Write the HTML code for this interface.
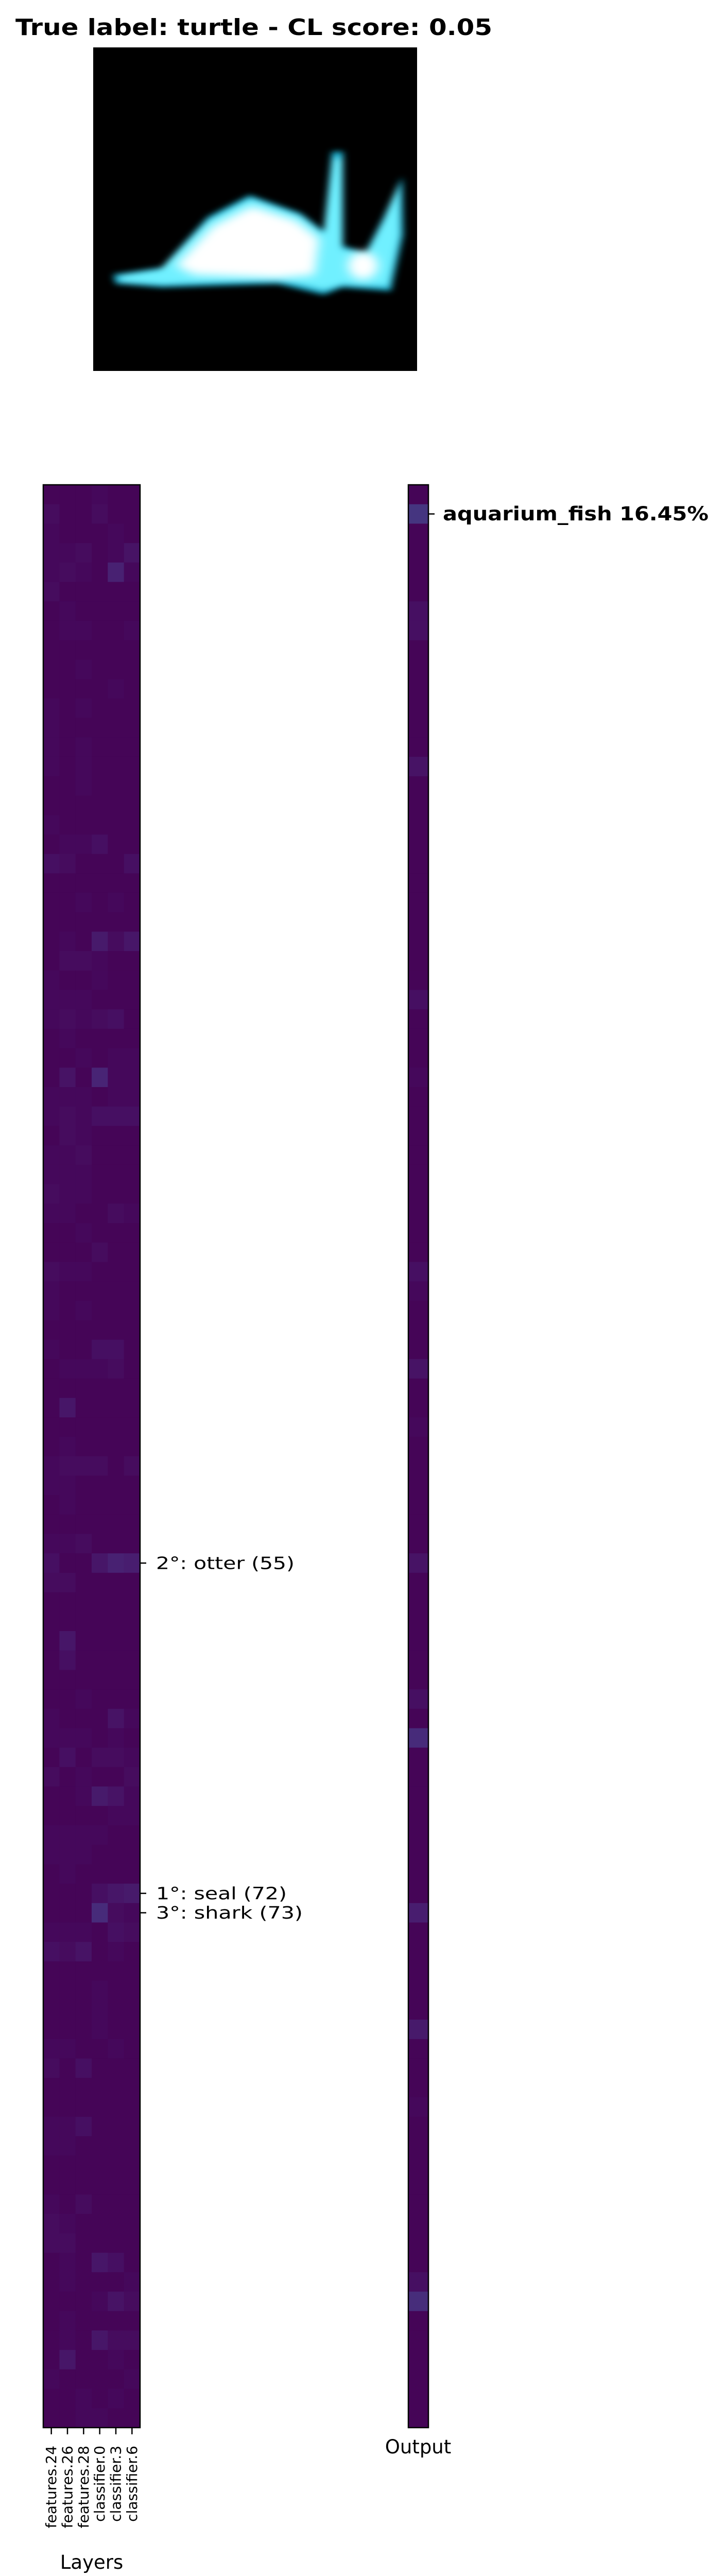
<!DOCTYPE html>
<html><head><meta charset="utf-8">
<style>
html,body{margin:0;padding:0;background:#fff;width:1408px;height:5021px;overflow:hidden;}
svg{display:block;font-family:"DejaVu Sans","Liberation Sans",sans-serif;}
</style></head>
<body>
<svg id="fig" width="1408" height="5021" viewBox="0 0 1408 5021" xmlns="http://www.w3.org/2000/svg" style="position:absolute;left:0;top:0;overflow:hidden">
  <defs>
    <filter id="blur" x="-20%" y="-20%" width="140%" height="140%"><feGaussianBlur stdDeviation="8"/></filter>
    <filter id="blur2" x="-20%" y="-20%" width="140%" height="140%"><feGaussianBlur stdDeviation="12"/></filter>
    <clipPath id="imgclip"><rect x="181" y="92" width="629" height="628"/></clipPath>
  </defs>
  <text x="30" y="68" font-size="44" font-weight="bold" textLength="926" lengthAdjust="spacingAndGlyphs">True label: turtle - CL score: 0.05</text>
  <g clip-path="url(#imgclip)">
    <rect x="181" y="92" width="629" height="628" fill="#000"/>
    <g transform="scale(0.898,0.7015)">
      <g filter="url(#blur)">
        <polygon fill="#1fb8d8" points="245,760 350,740 450,600 540,540 650,590 700,640 718,420 742,420 742,680 790,700 830,600 870,490 872,650 845,805 740,795 700,815 600,785 350,795 250,785"/>
        <polygon fill="#6ff0ff" points="260,765 345,748 452,612 542,552 648,600 700,650 722,440 738,440 738,690 792,705 832,610 862,510 862,650 838,790 742,785 700,800 600,770 355,785 262,778"/>
      </g>
      <g filter="url(#blur2)">
        <polygon fill="#ffffff" points="380,735 460,625 545,570 640,610 690,660 680,760 600,770 420,760"/>
        <ellipse cx="785" cy="735" rx="32" ry="38" fill="#ffffff"/>
      </g>
    </g>
  </g>
  <g id="heatmap"></g>
  <g id="output"></g>
  <g id="labels"></g>
</svg>
<script>
// ---- data ----
const layerNames = ["features.24","features.26","features.28","classifier.0","classifier.3","classifier.6"];
const heatRows = [
[0.01,0.01,0.01,0.02,0.01,0.01],[0.03,0.01,0.01,0.03,0.01,0.01],[0.02,0.01,0.01,0.01,0.02,0.01],[0.02,0.02,0.03,0.01,0.02,0.05],[0.02,0.03,0.02,0.01,0.09,0.02],
[0.03,0.01,0.01,0.01,0.01,0.01],[0.01,0.02,0.01,0.01,0.01,0.01],[0.01,0.02,0.02,0.01,0.01,0.02],[0.01,0.01,0.01,0.01,0.01,0.01],[0.01,0.01,0.02,0.01,0.01,0.01],
[0.01,0.01,0.01,0.01,0.02,0.01],[0.02,0.01,0.02,0.01,0.01,0.01],[0.02,0.01,0.01,0.01,0.01,0.01],[0.02,0.01,0.02,0.01,0.01,0.01],[0.02,0.01,0.02,0.01,0.01,0.01],
[0.01,0.01,0.02,0.01,0.01,0.01],[0.01,0.01,0.01,0.01,0.01,0.01],[0.02,0.01,0.01,0.01,0.01,0.01],[0.01,0.02,0.02,0.04,0.01,0.01],[0.04,0.03,0.01,0.01,0.01,0.04],
[0.01,0.01,0.01,0.01,0.01,0.01],[0.01,0.01,0.02,0.01,0.02,0.01],[0.01,0.01,0.01,0.01,0.01,0.01],[0.01,0.02,0.01,0.07,0.03,0.06],[0.01,0.03,0.03,0.02,0.01,0.01],
[0.02,0.01,0.01,0.02,0.01,0.01],[0.02,0.02,0.02,0.01,0.01,0.01],[0.02,0.03,0.02,0.03,0.04,0.01],[0.01,0.02,0.01,0.01,0.01,0.01],[0.01,0.01,0.02,0.01,0.02,0.02],
[0.01,0.05,0.01,0.10,0.02,0.02],[0.02,0.02,0.02,0.01,0.02,0.02],[0.02,0.03,0.02,0.04,0.04,0.04],[0.01,0.03,0.02,0.01,0.01,0.01],[0.02,0.02,0.03,0.01,0.01,0.01],
[0.02,0.02,0.02,0.01,0.01,0.01],[0.03,0.02,0.02,0.01,0.01,0.01],[0.02,0.02,0.01,0.01,0.03,0.02],[0.01,0.01,0.02,0.01,0.01,0.01],[0.01,0.01,0.01,0.03,0.01,0.01],
[0.03,0.02,0.02,0.01,0.01,0.01],[0.02,0.01,0.01,0.01,0.01,0.01],[0.02,0.01,0.02,0.01,0.01,0.01],[0.01,0.01,0.01,0.01,0.01,0.01],[0.02,0.01,0.01,0.04,0.04,0.01],
[0.01,0.02,0.02,0.02,0.03,0.01],[0.01,0.01,0.01,0.01,0.01,0.01],[0.01,0.06,0.01,0.01,0.01,0.01],[0.01,0.01,0.01,0.01,0.01,0.01],[0.01,0.02,0.01,0.01,0.01,0.01],
[0.02,0.03,0.03,0.03,0.01,0.03],[0.02,0.02,0.01,0.01,0.01,0.01],[0.01,0.02,0.01,0.01,0.01,0.01],[0.01,0.01,0.01,0.01,0.01,0.01],[0.02,0.02,0.03,0.01,0.01,0.01],
[0.04,0.01,0.01,0.06,0.09,0.08],[0.03,0.03,0.01,0.01,0.01,0.01],[0.01,0.01,0.01,0.01,0.01,0.01],[0.01,0.01,0.01,0.01,0.01,0.01],[0.01,0.06,0.01,0.01,0.01,0.01],
[0.01,0.04,0.01,0.01,0.01,0.01],[0.01,0.01,0.01,0.01,0.01,0.01],[0.01,0.01,0.02,0.01,0.01,0.01],[0.02,0.01,0.01,0.01,0.05,0.02],[0.02,0.02,0.02,0.01,0.02,0.01],
[0.01,0.04,0.01,0.03,0.03,0.02],[0.03,0.01,0.02,0.01,0.01,0.03],[0.01,0.01,0.02,0.07,0.05,0.02],[0.01,0.01,0.01,0.01,0.02,0.02],[0.02,0.02,0.02,0.02,0.01,0.01],
[0.02,0.02,0.02,0.01,0.01,0.01],[0.01,0.02,0.01,0.01,0.01,0.01],[0.01,0.01,0.01,0.04,0.06,0.07],[0.01,0.01,0.01,0.13,0.03,0.02],[0.02,0.02,0.02,0.01,0.04,0.03],
[0.04,0.03,0.05,0.01,0.02,0.01],[0.01,0.01,0.01,0.01,0.01,0.01],[0.01,0.01,0.01,0.02,0.01,0.01],[0.01,0.01,0.01,0.02,0.01,0.01],[0.01,0.01,0.01,0.02,0.01,0.01],
[0.02,0.02,0.01,0.01,0.02,0.01],[0.03,0.01,0.04,0.01,0.01,0.01],[0.01,0.01,0.01,0.01,0.01,0.01],[0.01,0.01,0.01,0.01,0.01,0.01],[0.02,0.02,0.04,0.01,0.01,0.01],
[0.02,0.02,0.01,0.01,0.01,0.01],[0.01,0.01,0.01,0.01,0.01,0.01],[0.01,0.01,0.01,0.01,0.01,0.01],[0.02,0.01,0.03,0.01,0.01,0.01],[0.03,0.02,0.01,0.01,0.01,0.01],
[0.03,0.03,0.01,0.01,0.01,0.01],[0.01,0.02,0.01,0.06,0.04,0.01],[0.01,0.02,0.01,0.01,0.01,0.02],[0.01,0.01,0.01,0.02,0.05,0.03],[0.01,0.02,0.01,0.01,0.01,0.01],
[0.01,0.02,0.01,0.06,0.03,0.03],[0.01,0.06,0.01,0.01,0.02,0.01],[0.02,0.01,0.01,0.01,0.01,0.02],[0.01,0.01,0.02,0.01,0.02,0.01],[0.01,0.01,0.02,0.02,0.01,0.01]
];
const outputValues = [0.01,0.1645,0.01,0.01,0.01,0.01,0.04,0.04,0.01,0.01,
0.01,0.01,0.01,0.01,0.05,0.01,0.01,0.01,0.01,0.01,
0.01,0.01,0.01,0.01,0.01,0.01,0.04,0.01,0.01,0.01,
0.02,0.01,0.01,0.01,0.01,0.01,0.01,0.01,0.01,0.01,
0.04,0.02,0.01,0.01,0.01,0.05,0.01,0.01,0.02,0.01,
0.01,0.01,0.01,0.01,0.01,0.05,0.01,0.01,0.01,0.01,
0.01,0.01,0.04,0.01,0.13,0.01,0.01,0.01,0.01,0.01,
0.01,0.01,0.01,0.08,0.01,0.01,0.01,0.01,0.01,0.07,
0.01,0.01,0.01,0.02,0.01,0.01,0.01,0.01,0.01,0.01,
0.01,0.01,0.04,0.14,0.01,0.01,0.01,0.01,0.01,0.01];
const rowTickIdx = [55,72,73];
const rowTickText = ["2°: otter (55)","1°: seal (72)","3°: shark (73)"];
const rowTickLen = [269,254,285];
const topIdx = 1;
const topText = "aquarium_fish 16.45%";

// ---- layout ----
const NS="http://www.w3.org/2000/svg";
const hmX0=84, hmX1=272, hmY0=941, hmY1=4712;
const outX0=793, outX1=832;
const nRows=heatRows.length, nCols=layerNames.length;
const rowH=(hmY1-hmY0)/nRows, colW=(hmX1-hmX0)/nCols;
const yOf=i=>hmY0+i*rowH;
const xOf=j=>hmX0+j*colW;
const stops=[[0,[68,1,84]],[0.05,[71,19,101]],[0.1,[72,36,117]],[0.15,[71,47,125]],[0.2,[65,68,135]],[0.3,[53,95,141]],[0.4,[42,120,142]],[0.5,[33,145,140]],[0.6,[34,168,132]],[0.7,[68,191,112]],[0.8,[122,209,81]],[0.9,[189,223,38]],[1,[253,231,37]]];
function viridis(v){v=Math.max(0,Math.min(1,v));for(let k=1;k<stops.length;k++){if(v<=stops[k][0]){const a=stops[k-1],b=stops[k];const t=(v-a[0])/(b[0]-a[0]);const c=a[1].map((x,i)=>Math.round(x+(b[1][i]-x)*t));return `rgb(${c})`;}}return 'rgb(253,231,37)';}
function mk(tag,attrs,parent){const e=document.createElementNS(NS,tag);for(const k in attrs)e.setAttribute(k,attrs[k]);parent.appendChild(e);return e;}

const hm=document.getElementById('heatmap');
heatRows.forEach((row,i)=>row.forEach((v,j)=>{
  const r=mk('rect',{x:xOf(j),y:yOf(i),width:colW+0.5,height:rowH+0.5,fill:viridis(v)},hm);
  
  
}));
const hb=mk('rect',{x:hmX0,y:hmY0,width:hmX1-hmX0,height:hmY1-hmY0,fill:'none',stroke:'#000','stroke-width':2.5},hm);



const out=document.getElementById('output');
outputValues.forEach((v,i)=>{
  const r=mk('rect',{x:outX0,y:yOf(i),width:outX1-outX0,height:rowH+0.5,fill:viridis(v)},out);
  
  
});
const ob=mk('rect',{x:outX0,y:hmY0,width:outX1-outX0,height:hmY1-hmY0,fill:'none',stroke:'#000','stroke-width':2.5},out);



const lb=document.getElementById('labels');
rowTickIdx.forEach((idx,k)=>{
  const cy=yOf(idx)+rowH/2;
  mk('line',{x1:hmX1,x2:hmX1+12,y1:cy,y2:cy,stroke:'#000','stroke-width':2.5},lb);
  const t=mk('text',{x:hmX1+31,y:cy,'font-size':33,'dominant-baseline':'central',textLength:rowTickLen[k],lengthAdjust:'spacingAndGlyphs'},lb);
  
  
  t.textContent=rowTickText[k];
});
{
  const cy=yOf(topIdx)+rowH/2;
  mk('line',{x1:outX1,x2:outX1+12,y1:cy,y2:cy,stroke:'#000','stroke-width':2.5},lb);
  const t=mk('text',{x:860,y:cy,'font-size':37,'font-weight':'bold','dominant-baseline':'central',textLength:516,lengthAdjust:'spacingAndGlyphs'},lb);
  
  
  t.textContent=topText;
}
layerNames.forEach((n,j)=>{
  const cx=xOf(j)+colW/2;
  mk('line',{x1:cx,x2:cx,y1:hmY1,y2:hmY1+13,stroke:'#000','stroke-width':2.5},lb);
  const t=mk('text',{x:0,y:0,'font-size':28,'text-anchor':'end','dominant-baseline':'central',transform:`translate(${cx},4747) rotate(-90)`},lb);
  
  
  t.textContent=n;
});
const xl=mk('text',{x:178,y:4986,'font-size':37,'text-anchor':'middle'},lb);


xl.textContent='Layers';
const ol=mk('text',{x:812,y:4762,'font-size':37,'text-anchor':'middle'},lb);


ol.textContent='Output';
</script>
</body></html>
